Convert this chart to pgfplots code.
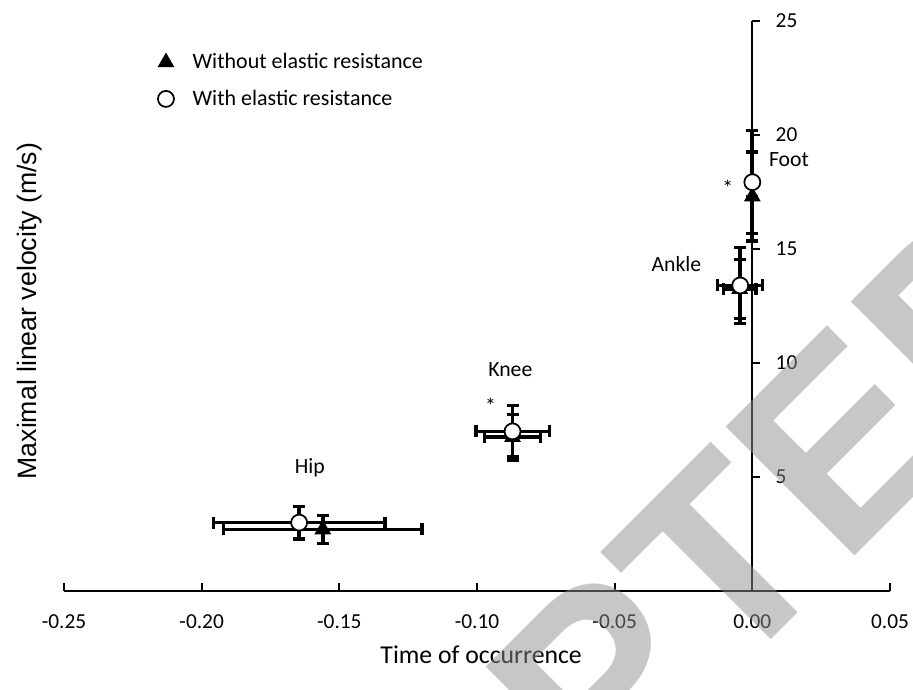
\documentclass[border=0pt]{standalone}
\usepackage{pgfplots}
\pgfplotsset{compat=1.18}
\usepackage{fontspec}
\setmainfont{Carlito}
\newfontfamily\arialf{Liberation Sans}
\newfontfamily\wmfont{Liberation Sans Bold}

\begin{document}
\begin{tikzpicture}
\begin{axis}[
  scale only axis, width=619.5pt, height=427.5pt,
  xmin=-0.25, xmax=0.05, ymin=0, ymax=25,
  axis x line*=bottom, axis y line*=middle,
  axis line style={line width=1.5pt, black},
  clip=false,
  xtick={-0.25,-0.2,-0.15,-0.1,-0.05,0,0.05},
  xticklabels={-0.25,-0.20,-0.15,-0.10,-0.05,0.00,0.05},
  ytick={5,10,15,20,25},
  yticklabels={5,10,15,20,25},
  hide obscured x ticks=false, hide obscured y ticks=false,
  xtick align=inside, ytick align=inside,
  major tick length=6pt,
  tick style={line width=1.5pt, black},
  xticklabel style={font=\fontsize{16}{19}\selectfont, yshift=-14.5pt},
  yticklabel style={font=\fontsize{16}{19}\selectfont, anchor=west, xshift=14pt},
  xlabel={Time of occurrence},
  ylabel={Maximal linear velocity (m/s)},
  every axis x label/.style={at={(axis description cs:0.505,-0.1123)}, anchor=center, font=\fontsize{19.3}{23}\selectfont},
  every axis y label/.style={at={(axis description cs:-0.0412,0.491)}, anchor=center, rotate=90, font=\arialf\fontsize{20}{24}\selectfont},
  legend style={at={(axis description cs:0.1086,0.9525)}, anchor=north west, draw=none, fill=none,
    font=\fontsize{16.5}{20}\selectfont, row sep=10.5pt,
    /tikz/every odd column/.append style={column sep=12pt}},
  legend cell align=left,
]
% without elastic resistance
\addplot[only marks, mark=triangle*, mark size=6.5pt,
  mark options={fill=black, draw=black, line width=0.8pt},
  error bars/.cd, x dir=both, x explicit, y dir=both, y explicit,
  error bar style={line width=2.8pt, black},
  error mark=-,
  error mark options={rotate=90, line width=2.4pt, mark size=4.5pt, black}]
  coordinates {
  (-0.156,2.7) +- (0.036,0.6)
  (-0.0871,6.75) +- (0.0103,1.0)
  (-0.0046,13.25) +- (0.0059,1.3)
  (0,17.3) +- (0,1.95)
  };
\addlegendentry{Without elastic resistance}
% with elastic resistance
\addplot[only marks, mark=*, mark size=6pt,
  mark options={fill=white, draw=black, line width=1.3pt},
  error bars/.cd, x dir=both, x explicit, y dir=both, y explicit,
  error bar style={line width=2.8pt, black},
  error mark=-,
  error mark options={rotate=90, line width=2.4pt, mark size=4.5pt, black}]
  coordinates {
  (-0.1646,3.0) +- (0.0312,0.72)
  (-0.0871,7.0) +- (0.0133,1.12)
  (-0.0044,13.4) +- (0.0082,1.66)
  (0,17.93) +- (0,2.25)
  };
\addlegendentry{With elastic resistance}

\node[font=\fontsize{16.3}{19}\selectfont] at (axis cs:-0.1607,5.39) {Hip};
\node[font=\fontsize{16.3}{19}\selectfont] at (axis cs:-0.0879,9.69) {Knee};
\node[font=\fontsize{16.3}{19}\selectfont] at (axis cs:-0.0276,14.34) {Ankle};
\node[font=\fontsize{16.3}{19}\selectfont] at (axis cs:0.0133,18.93) {Foot};
\node[font=\fontsize{16.3}{19}\selectfont] at (axis cs:-0.0951,8.12) {*};
\node[font=\fontsize{16.3}{19}\selectfont] at (axis cs:-0.0089,17.68) {*};

\coordinate (o) at (rel axis cs:0,0);
\coordinate (wm) at (axis cs:-0.0599,-10.2);
\end{axis}
\node[overlay, anchor=base, inner sep=0pt, rotate=45, text=black!44, text opacity=0.5,
  font=\wmfont\fontsize{198.75}{198.75}\selectfont] at (wm) {ACCEPTED};
\pgfresetboundingbox
\path (o) ++(-48pt,-73.5pt) rectangle ++(684.75pt,516.75pt);
\end{tikzpicture}
\end{document}
